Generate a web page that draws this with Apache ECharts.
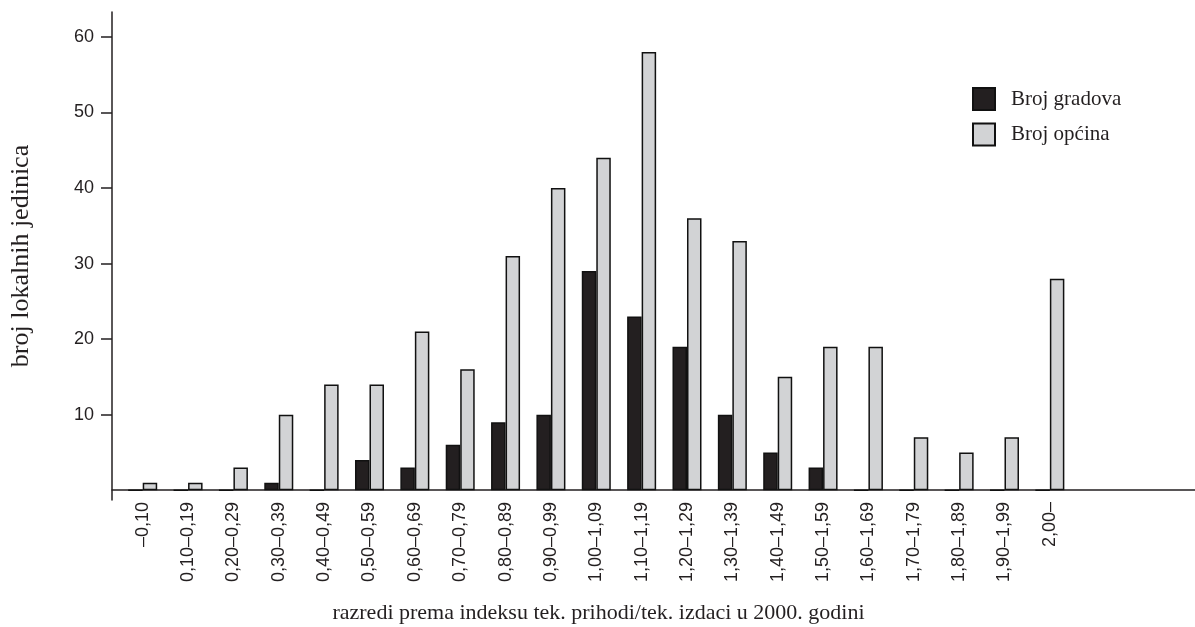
<!DOCTYPE html>
<html>
<head>
<meta charset="utf-8">
<script src="https://cdn.jsdelivr.net/npm/echarts@6/dist/echarts.min.js"></script>
<style>html,body{margin:0;padding:0;background:#fff}#c{width:1195px;height:627px}</style>
</head>
<body>
<div id="c"></div>
<script>
const categories = ['\u20130,10','0,10\u20130,19','0,20\u20130,29','0,30\u20130,39','0,40\u20130,49','0,50\u20130,59','0,60\u20130,69','0,70\u20130,79','0,80\u20130,89','0,90\u20130,99','1,00\u20131,09','1,10\u20131,19','1,20\u20131,29','1,30\u20131,39','1,40\u20131,49','1,50\u20131,59','1,60\u20131,69','1,70\u20131,79','1,80\u20131,89','1,90\u20131,99','2,00\u2013'];
const gradova = [0,0,0,1,0,4,3,6,9,10,29,23,19,10,5,3,0,0,0,0,0];
const opcina = [1,1,3,10,14,14,21,16,31,40,44,58,36,33,15,19,19,7,5,7,28];
const yTicks = [10,20,30,40,50,60];
const seriesNames = ['Broj gradova','Broj općina'];

const textColor = '#231f20';
const sans = 'Liberation Sans';
const serif = 'Liberation Serif';
const idx = categories.map((_, i) => i);

const chart = echarts.init(document.getElementById('c'), null, {renderer: 'canvas'});
chart.setOption({
  animation: false,
  backgroundColor: '#fff',
  grid: {left: 112, right: 0, top: 12, bottom: 127, containLabel: false, outerBoundsMode: 'none'},
  legend: {
    orient: 'vertical', left: 972, top: 87, padding: 0,
    icon: 'rect',
    itemWidth: 22, itemHeight: 22, itemGap: 11.5,
    textStyle: {fontFamily: serif, fontSize: 21, color: textColor, padding: [0,0,0,11]},
    data: seriesNames
  },
  xAxis: {
    type: 'value', min: -0.677, max: 23.2,
    axisLine: {onZero: true, lineStyle: {color: textColor, width: 1.5}},
    axisTick: {show: false},
    splitLine: {show: false},
    axisLabel: {
      customValues: idx, rotate: 90, margin: 2, padding: [0, 0, 9, 0],
      fontFamily: sans, fontSize: 18, color: textColor,
      formatter: v => categories[Math.round(v)] || ''
    },
    name: 'razredi prema indeksu tek. prihodi/tek. izdaci u 2000. godini',
    nameLocation: 'middle', nameGap: 102,
    nameTextStyle: {fontFamily: serif, fontSize: 22, color: textColor, padding: [0, 110, 0, 0]}
  },
  yAxis: {
    type: 'value', min: -1.3, max: 63.3,
    axisLine: {show: true, onZero: false, lineStyle: {color: textColor, width: 1.5}},
    axisTick: {show: true, customValues: yTicks, length: 11, lineStyle: {color: textColor, width: 1.5}},
    splitLine: {show: false},
    axisLabel: {customValues: yTicks, margin: 18, fontFamily: sans, fontSize: 18, color: textColor},
    name: 'broj lokalnih jedinica',
    nameLocation: 'middle', nameGap: 78, nameRotate: 90,
    nameTextStyle: {fontFamily: serif, fontSize: 26, color: textColor}
  },
  series: [
    {
      name: seriesNames[0], type: 'bar', barWidth: 14.5, barGap: '0%',
      itemStyle: {color: '#231f20', borderColor: '#111', borderWidth: 1.5},
      data: idx.map(i => [i, gradova[i]])
    },
    {
      name: seriesNames[1], type: 'bar', barWidth: 14.5, barGap: '0%',
      itemStyle: {color: '#d2d3d5', borderColor: '#111', borderWidth: 1.5},
      data: idx.map(i => [i, opcina[i]])
    }
  ]
});
</script>
</body>
</html>
